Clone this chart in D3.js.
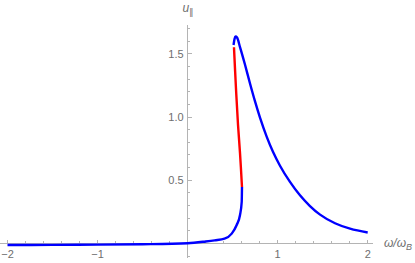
<!DOCTYPE html>
<html>
<head>
<meta charset="utf-8">
<script src="https://cdn.jsdelivr.net/npm/d3@7"></script>
<style>
  html, body { margin: 0; padding: 0; background: #fff; }
  svg { display: block; }
  text { font-family: "Liberation Sans", Arial, sans-serif; }
</style>
</head>
<body>
<script>
// ---- data ----
// lower stable branch (blue)
const lowerX = [-2, -1.5, -1, -0.5, 0, 0.2, 0.3, 0.41, 0.49, 0.545, 0.582, 0.601, 0.604];
const lowerY = [-0.012, -0.011, -0.009, -0.006, 0.002, 0.016, 0.025, 0.038, 0.078, 0.146, 0.225, 0.33, 0.447];
// unstable branch (red)
const redX = [0.604, 0.582, 0.560, 0.537, 0.515];
const redY = [0.447, 0.715, 0.937, 1.229, 1.551];
// upper stable branch (blue)
const upperX = [0.510, 0.521, 0.532, 0.549, 0.582, 0.637, 0.693, 0.748, 0.804, 0.878, 0.948, 1.026, 1.137, 1.248, 1.359, 1.471, 1.637, 1.804, 2.0];
const upperY = [1.569, 1.617, 1.636, 1.628, 1.553, 1.415, 1.265, 1.125, 0.995, 0.845, 0.725, 0.615, 0.487, 0.381, 0.296, 0.228, 0.160, 0.117, 0.087];

const xMajorTicks = [-2, -1, 1, 2];
const xTickLabels = ["\u22122", "\u22121", "1", "2"];
const yMajorTicks = [0.5, 1.0, 1.5];
const yTickLabels = ["0.5", "1.0", "1.5"];
const xAxisExtent = [-2.085, 2.06];
const yAxisExtent = [-0.115, 1.727];

const W = 415, H = 263;
const svg = d3.select("body").append("svg").attr("width", W).attr("height", H);

const x = d3.scaleLinear().domain([-2, 2]).range([7.5, 367.7]);
const y = d3.scaleLinear().domain([0, 1.5]).range([243.5, 53.75]);

const axisColor = "#b4b4b4";
const textColor = "#6e6e6e";

// minor tick positions
const xMinor = d3.range(-20, 21, 2).map(d => d / 10).filter(d => Math.abs(d % 1) > 1e-6);
const yMinor = d3.range(-1, 18, 1).map(d => d / 10).filter(d => d !== 0 && !yMajorTicks.some(m => Math.abs(m - d) < 1e-6));

const ax = svg.append("g").attr("stroke", axisColor).attr("stroke-width", 1).attr("shape-rendering", "crispEdges");
// x axis line
ax.append("line").attr("x1", x(xAxisExtent[0])).attr("x2", x(xAxisExtent[1]))
  .attr("y1", y(0)).attr("y2", y(0));
// y axis line
ax.append("line").attr("x1", x(0)).attr("x2", x(0))
  .attr("y1", y(yAxisExtent[0])).attr("y2", y(yAxisExtent[1]));

// x ticks (upward)
ax.selectAll(".xmaj").data(xMajorTicks).join("line")
  .attr("x1", d => x(d)).attr("x2", d => x(d)).attr("y1", y(0)).attr("y2", y(0) - 4);
ax.selectAll(".xmin").data(xMinor).join("line")
  .attr("x1", d => x(d)).attr("x2", d => x(d)).attr("y1", y(0)).attr("y2", y(0) - 2.5);
// y ticks (rightward)
ax.selectAll(".ymaj").data(yMajorTicks).join("line")
  .attr("x1", x(0)).attr("x2", x(0) + 4).attr("y1", d => y(d)).attr("y2", d => y(d));
ax.selectAll(".ymin").data(yMinor).join("line")
  .attr("x1", x(0)).attr("x2", x(0) + 2.5).attr("y1", d => y(d)).attr("y2", d => y(d));

// tick labels
svg.append("g").selectAll("text").data(xMajorTicks).join("text")
  .attr("x", d => x(d)).attr("y", y(0) + 14)
  .attr("text-anchor", "middle").attr("font-size", 11).attr("fill", textColor)
  .text((d, i) => xTickLabels[i]);
svg.append("g").selectAll("text").data(yMajorTicks).join("text")
  .attr("x", x(0) - 4).attr("y", d => y(d) + 4)
  .attr("text-anchor", "end").attr("font-size", 11).attr("fill", textColor)
  .text((d, i) => yTickLabels[i]);

// axis labels
const yl = svg.append("text").attr("x", x(0) - 5).attr("y", 12)
  .attr("font-size", 12).attr("fill", textColor);
yl.append("tspan").attr("font-style", "italic").text("u");
yl.append("tspan").attr("dy", 3).attr("font-size", 9).text("\u2225");

const xl = svg.append("text").attr("x", 384).attr("y", y(0) + 3)
  .attr("font-size", 12).attr("fill", textColor).attr("font-style", "italic");
xl.append("tspan").text("\u03c9/\u03c9");
xl.append("tspan").attr("dy", 3).attr("font-size", 9).text("B");

// curves
const line = d3.line().x(d => x(d[0])).y(d => y(d[1]));
const zip = (a, b) => a.map((v, i) => [v, b[i]]);

svg.append("path").datum(zip(lowerX, lowerY))
  .attr("d", line.curve(d3.curveMonotoneX))
  .attr("fill", "none").attr("stroke", "#0000ff").attr("stroke-width", 2.4);
svg.append("path").datum(zip(redX, redY))
  .attr("d", line.curve(d3.curveCatmullRom))
  .attr("fill", "none").attr("stroke", "#ff0000").attr("stroke-width", 2.4);
svg.append("path").datum(zip(upperX, upperY))
  .attr("d", line.curve(d3.curveMonotoneX))
  .attr("fill", "none").attr("stroke", "#0000ff").attr("stroke-width", 2.4);
</script>
</body>
</html>
